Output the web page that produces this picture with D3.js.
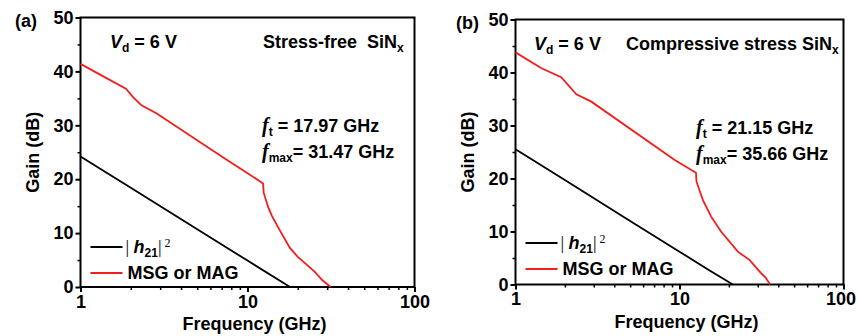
<!DOCTYPE html>
<html><head><meta charset="utf-8">
<script src="https://cdn.jsdelivr.net/npm/d3@7"></script>
<style>
body{margin:0;background:#fff;}
text{font-family:"Liberation Sans",Arial,sans-serif;font-weight:bold;fill:#000;}
</style></head>
<body><svg id="chart" width="857" height="336"></svg>
<script>
// ---- data ----
const xTickValues = [1, 10, 100];
const yTickValues = [0, 10, 20, 30, 40, 50];
const panelLabels = ["(a)", "(b)"];
const materialLabels = ["Stress-free  SiN", "Compressive stress SiN"];
const ftLabels = ["17.97 GHz", "21.15 GHz"];
const fmaxLabels = ["31.47 GHz", "35.66 GHz"];
const legendLabels = ["MSG or MAG"];

const freqH21A = [1, 2, 5, 10, 17.97];
const gainH21A = [24.2, 18.4, 10.7, 4.9, 0];
const freqMsgA = [1, 1.31, 1.87, 2.07, 2.32, 2.86, 7.5, 9.7, 12.4, 12.5, 13.3, 14, 15.5, 17.9, 20, 22.7, 25.3, 28, 31.47];
const gainMsgA = [41.4, 39.4, 36.8, 35.2, 33.7, 32.2, 23.6, 21.4, 19.2, 17.5, 14.8, 13.2, 10.7, 7.3, 5.6, 4.1, 2.8, 1.3, 0];

const freqH21B = [1, 2, 5, 10, 15, 21.15];
const gainH21B = [25.5, 19.7, 12.0, 6.2, 2.8, 0];
const freqMsgB = [1, 1.44, 1.90, 2.35, 2.90, 9.35, 12.6, 12.7, 13.9, 15.6, 17.9, 22.7, 26.8, 31.5, 33.5, 35.66];
const gainMsgB = [43.8, 40.8, 39.1, 35.9, 34.5, 23.5, 21.1, 19.4, 15.9, 12.8, 10.0, 6.2, 4.6, 2.1, 1.3, 0];

const svg = d3.select("#chart");

function zip(a, b){ return a.map((v,i)=>[v,b[i]]); }

function drawPanel(p){
  const x = d3.scaleLog().domain([1,100]).range([p.left, p.right]);
  const y = d3.scaleLinear().domain([0,50]).range([p.bottom, p.top]);
  const g = svg.append("g");

  // minor ticks
  const xMinor = [];
  for (let d=1; d<100; d*=10) for (let k=2;k<=9;k++) xMinor.push(d*k);
  g.append("g").attr("transform",`translate(0,${p.bottom})`)
    .call(d3.axisBottom(x).tickValues(xMinor).tickSize(3).tickFormat(""))
    .call(s=>s.select(".domain").remove())
    .call(s=>s.selectAll("line").attr("stroke-width",1.5));
  g.append("g").attr("transform",`translate(${p.left},0)`)
    .call(d3.axisLeft(y).tickValues([5,15,25,35,45]).tickSize(3).tickFormat(""))
    .call(s=>s.select(".domain").remove())
    .call(s=>s.selectAll("line").attr("stroke-width",1.5));

  // major axes
  const xa = g.append("g").attr("transform",`translate(0,${p.bottom})`)
    .call(d3.axisBottom(x).tickValues(xTickValues).tickSize(5).tickPadding(3).tickFormat(d3.format("d")));
  xa.select(".domain").remove();
  xa.selectAll("line").attr("stroke-width",2);
  xa.selectAll("text").attr("font-size",18).attr("font-family","Liberation Sans, Arial").attr("font-weight","bold").attr("fill","#000")
    .attr("dx", d => d === 100 ? p.lastDx : 0);
  const ya = g.append("g").attr("transform",`translate(${p.left},0)`)
    .call(d3.axisLeft(y).tickValues(yTickValues).tickSize(5).tickPadding(2));
  ya.select(".domain").remove();
  ya.selectAll("line").attr("stroke-width",2);
  ya.selectAll("text").attr("font-size",18).attr("font-family","Liberation Sans, Arial").attr("font-weight","bold").attr("fill","#000");

  // frame
  g.append("rect").attr("x",p.left).attr("y",p.top)
    .attr("width",p.right-p.left).attr("height",p.bottom-p.top)
    .attr("fill","none").attr("stroke","#000").attr("stroke-width",2);

  // lines
  const line = d3.line().x(d=>x(d[0])).y(d=>y(d[1]));
  g.append("path").datum(zip(p.fH, p.gH)).attr("d",line)
    .attr("fill","none").attr("stroke","#000").attr("stroke-width",1.8);
  g.append("path").datum(zip(p.fM, p.gM)).attr("d",line)
    .attr("fill","none").attr("stroke","#f21d1d").attr("stroke-width",1.8);

  // axis titles
  g.append("text").attr("x",(p.left+p.right)/2+7).attr("y",p.bottom+43)
    .attr("text-anchor","middle").attr("font-size",18).text("Frequency (GHz)");
  g.append("text").attr("transform",`translate(${p.left-42},${(p.top+p.bottom)/2}) rotate(-90)`)
    .attr("text-anchor","middle").attr("font-size",18).text("Gain (dB)");

  // panel label
  g.append("text").attr("x",p.labelX).attr("y",p.top+9).attr("font-size",18).text(p.label);

  // Vd
  const vd = g.append("text").attr("x",p.vdX).attr("y",p.top+30).attr("font-size",18);
  vd.append("tspan").attr("font-style","italic").text("V");
  vd.append("tspan").attr("font-size",12).attr("dy",4).text("d");
  vd.append("tspan").attr("dy",-4).text(" = 6 V");

  // material
  const mt = g.append("text").attr("x",p.matX).attr("y",p.top+30).attr("font-size",18)
    .attr("xml:space","preserve");
  mt.append("tspan").text(p.material);
  mt.append("tspan").attr("font-size",12).attr("dy",4).text("x");

  // ft
  const ft = g.append("text").attr("x",p.fX).attr("y",p.top+114).attr("font-size",18);
  ft.append("tspan").attr("font-family","Liberation Serif, Times New Roman, serif").attr("font-style","italic").attr("font-size",20).text("f");
  ft.append("tspan").attr("font-size",12).attr("dy",4).text("t");
  ft.append("tspan").attr("dy",-4).text(" = " + p.ft);
  const fm = g.append("text").attr("x",p.fX).attr("y",p.top+140).attr("font-size",18);
  fm.append("tspan").attr("font-family","Liberation Serif, Times New Roman, serif").attr("font-style","italic").attr("font-size",20).text("f");
  fm.append("tspan").attr("font-size",12).attr("dy",4).text("max");
  fm.append("tspan").attr("dy",-4).text("= " + p.fmax);

  // legend
  const lx = p.left + 10;
  g.append("line").attr("x1",lx).attr("x2",lx+32).attr("y1",p.legY).attr("y2",p.legY)
    .attr("stroke","#000").attr("stroke-width",1.8);
  g.append("line").attr("x1",lx).attr("x2",lx+32).attr("y1",p.legY+26).attr("y2",p.legY+26)
    .attr("stroke","#f21d1d").attr("stroke-width",1.8);
  const h = g.append("text").attr("x",lx+35).attr("y",p.legY+6).attr("font-size",18);
  h.append("tspan").attr("font-weight","normal").attr("font-family","Liberation Serif, serif").text("| ");
  h.append("tspan").attr("font-style","italic").text("h");
  h.append("tspan").attr("font-size",12).attr("dy",4).text("21");
  h.append("tspan").attr("dy",-4).attr("font-weight","normal").attr("font-family","Liberation Serif, serif").text("|");
  h.append("tspan").attr("dy",-6).attr("font-size",12).attr("font-weight","normal").attr("font-family","Liberation Serif, serif").text(" 2");
  g.append("text").attr("x",lx+37).attr("y",p.legY+32).attr("font-size",18).text(legendLabels[0]);
}

drawPanel({left:80.5,right:414.5,top:17.5,bottom:287,label:panelLabels[0],labelX:15,lastDx:0,
  vdX:110,matX:263,material:materialLabels[0],fX:262,ft:ftLabels[0],fmax:fmaxLabels[0],legY:247,
  fH:freqH21A,gH:gainH21A,fM:freqMsgA,gM:gainMsgA});
drawPanel({left:515.5,right:843.5,top:19.5,bottom:284.5,label:panelLabels[1],labelX:456,lastDx:-3,
  vdX:534,matX:626,material:materialLabels[1],fX:696,ft:ftLabels[1],fmax:fmaxLabels[1],legY:243,
  fH:freqH21B,gH:gainH21B,fM:freqMsgB,gM:gainMsgB});
</script></body></html>
